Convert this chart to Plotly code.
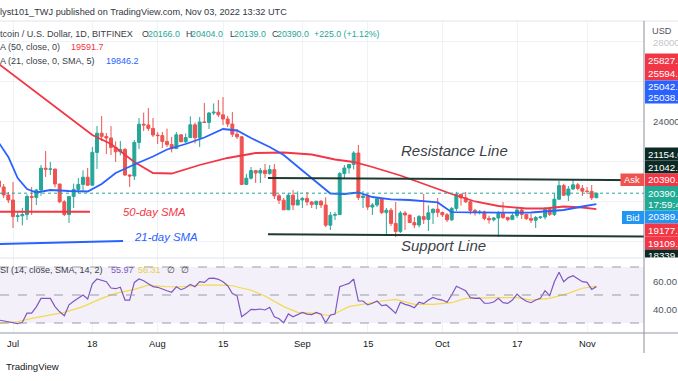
import plotly.graph_objects as go
import pandas as pd

W, H = 678, 381
PANE_R = 644          # right edge of the chart panes (price scale begins here)
MAIN_TOP, MAIN_BOT = 21, 258
RSI_TOP, RSI_BOT = 258, 332

# ---------------- data ----------------
dates = pd.date_range("2022-06-28", "2022-11-03", freq="D").strftime("%Y-%m-%d").tolist()

opens = [21000, 20700, 20300,
         20050, 19220, 19260, 19320, 20230, 20180, 20550, 21640, 21590, 21600, 20850, 19960, 19320, 20230, 20580, 20830,
         21190, 20790, 22430, 23390, 23230, 23150, 22680, 22460, 22580, 21300, 21250, 22930, 23840, 23800, 23630,
         23300, 23270, 22980, 22820, 22620, 23310, 22960, 23170, 23810, 23160, 23950, 23930, 24400, 24440, 24310,
         24100, 23850, 23340, 23210, 20830, 21140, 21520, 21400, 21530, 21370, 21570, 20260, 20040, 19560, 20290, 19800,
         20050, 20130, 19950, 19830, 19990, 19800, 18790, 19290, 19320, 21370, 21650, 21830, 22400, 20170, 20240,
         19700, 19800, 20110, 19420, 19540, 18880, 18480, 19400, 19300, 18920, 18800, 19220, 19080, 19410, 19590,
         19430, 19310, 19060, 19630, 20340, 20160, 19960, 19530, 19420, 19450, 19130, 19060, 19150, 19380, 19180,
         19070, 19270, 19550, 19330, 19120, 19040, 19170, 19200, 19570, 19330, 20090, 20770, 20290, 20600, 20810, 20630,
         20490, 20480, 20166]
highs = [21200, 20850, 20450,
         20950, 19420, 19650, 20330, 20700, 20600, 21800, 22500, 21950, 21600, 20860, 20040, 20250, 20870, 21150, 21530,
         21650, 22700, 23750, 24250, 23400, 23750, 22980, 23000, 22650, 21340, 23050, 24150, 24420, 24650, 24150,
         23450, 23450, 23620, 23200, 23450, 23350, 23380, 24230, 23920, 24200, 24900, 24450, 24880, 25050, 25200,
         24250, 24450, 23600, 23230, 21360, 21700, 21520, 21650, 21850, 21800, 21850, 20350, 20150, 20400, 20550, 20480,
         20200, 20450, 20000, 20000, 20050, 20180, 19450, 19450, 21450, 21800, 21850, 22480, 22800, 20500, 20350,
         19900, 20200, 20110, 19650, 19650, 19950, 19500, 19500, 19300, 19200, 19300, 20350, 19780, 19630, 20150,
         19470, 19400, 19700, 20460, 20360, 20450, 20050, 19610, 19550, 19520, 19270, 19200, 19500, 19950, 19210,
         19400, 19650, 19700, 19350, 19350, 19250, 19250, 19700, 19600, 20400, 21000, 20860, 20750, 21080, 20900, 20800,
         20700, 20800, 20404]
lows = [20500, 20150, 19900,
        18650, 18960, 18780, 19050, 19300, 19800, 20260, 21200, 21300, 20680, 19900, 19250, 18900, 19650, 20400, 20500,
        20760, 20760, 21600, 23000, 22350, 22300, 21950, 22280, 21250, 20700, 21050, 22600, 23500, 23500, 23200,
        22850, 22650, 22700, 22430, 22600, 22950, 22880, 23150, 22880, 22700, 23900, 23600, 24300, 24200, 23800,
        23700, 23200, 23100, 20800, 20800, 21070, 20900, 20900, 21150, 21320, 20100, 19850, 19550, 19550, 19550, 19800,
        19650, 19770, 19650, 19600, 19650, 18700, 18550, 19050, 19300, 21150, 21370, 21580, 20050, 19650, 19550,
        19300, 19700, 19350, 18250, 18750, 18200, 18400, 18550, 18900, 18650, 18680, 18850, 18500, 18850, 19200,
        19200, 18950, 19000, 19500, 19770, 19900, 19330, 19270, 19330, 19030, 18870, 18980, 18200, 19100, 18980,
        19070, 19150, 19100, 19050, 18900, 18650, 19100, 19080, 19250, 19250, 20060, 20250, 20000, 20560, 20530, 20250,
        20350, 20050, 20139]
closes = [20700, 20300, 20050,
          19220, 19260, 19320, 20230, 20180, 20550, 21640, 21590, 21600, 20850, 19960, 19320, 20230, 20580, 20830, 21190,
          20790, 22430, 23390, 23230, 23150, 22680, 22460, 22580, 21300, 21250, 22930, 23840, 23800, 23630, 23300,
          23270, 22980, 22820, 22620, 23310, 22960, 23170, 23810, 23160, 23950, 23930, 24400, 24440, 24310, 24100,
          23850, 23340, 23210, 20830, 21140, 21520, 21400, 21530, 21370, 21570, 20260, 20040, 19560, 20290, 19800, 20050,
          20130, 19950, 19830, 19990, 19800, 18790, 19290, 19320, 21370, 21650, 21830, 22400, 20170, 20240, 19700,
          19800, 20110, 19420, 19540, 18880, 18480, 19400, 19300, 18920, 18800, 19220, 19080, 19410, 19590, 19430,
          19310, 19060, 19630, 20340, 20160, 19960, 19530, 19420, 19450, 19130, 19060, 19150, 19380, 19180, 19070,
          19270, 19550, 19330, 19120, 19040, 19170, 19200, 19570, 19330, 20090, 20770, 20290, 20600, 20810, 20630, 20490,
          20480, 20160, 20390]

sma50_dates = ["2022-06-28", "2022-07-05", "2022-07-12", "2022-07-18", "2022-07-22", "2022-07-27", "2022-07-31",
               "2022-08-04", "2022-08-10", "2022-08-16", "2022-08-22", "2022-08-28", "2022-09-03", "2022-09-08",
               "2022-09-12", "2022-09-16", "2022-09-22", "2022-09-28", "2022-10-03", "2022-10-08", "2022-10-13",
               "2022-10-19", "2022-10-23", "2022-10-27", "2022-10-31", "2022-11-03"]
sma50_vals = [26850, 25600, 24350, 23300, 22850, 21950, 21400, 21375, 21800, 22150, 22400, 22425, 22325, 22075,
              21950, 21700, 21275, 20750, 20350, 19975, 19750, 19625, 19625, 19725, 19675, 19592]

sma21_dates = ["2022-06-28", "2022-06-30", "2022-07-02", "2022-07-04", "2022-07-06", "2022-07-09", "2022-07-13",
               "2022-07-17", "2022-07-20", "2022-07-23", "2022-07-27", "2022-07-31", "2022-08-03", "2022-08-07",
               "2022-08-11", "2022-08-15", "2022-08-18", "2022-08-21", "2022-08-25", "2022-08-28", "2022-09-01",
               "2022-09-04", "2022-09-07", "2022-09-10", "2022-09-13", "2022-09-16", "2022-09-20", "2022-09-24",
               "2022-09-30", "2022-10-03", "2022-10-06", "2022-10-13", "2022-10-20", "2022-10-24", "2022-10-27",
               "2022-10-31", "2022-11-03"]
sma21_vals = [22900, 22200, 21150, 20600, 20425, 20550, 20500, 20475, 20850, 21400, 21825, 22225, 22575, 22850,
              23175, 23600, 23525, 23150, 22700, 22300, 21525, 20950, 20375, 20350, 20425, 20200, 20085, 20050,
              19930, 19440, 19425, 19415, 19425, 19475, 19550, 19725, 19846]

rsi_vals = [32.1, 31.5, 31.0,
            30.0, 29.5, 30.5, 37.0, 37.0, 41.5, 47.6, 47.6, 47.6, 41.7, 38.0, 35.2, 43.0, 45.5, 47.5, 50.0,
            47.1, 58.0, 61.4, 60.5, 59.5, 55.0, 54.5, 55.5, 46.4, 46.4, 59.0, 61.4, 60.2, 58.0, 56.0,
            55.5, 54.0, 53.0, 52.0, 55.9, 53.8, 55.2, 57.6, 55.9, 59.5, 59.0, 61.9, 62.0, 61.2, 59.5,
            56.6, 51.0, 49.5, 34.5, 36.9, 39.8, 39.5, 40.0, 39.3, 41.2, 34.5, 33.0, 30.2, 36.5, 34.5, 36.2,
            37.6, 36.4, 36.0, 37.6, 36.2, 30.2, 35.7, 36.4, 55.9, 57.1, 58.3, 61.4, 45.7, 45.7, 42.9,
            44.1, 45.7, 42.4, 42.9, 40.0, 36.9, 44.8, 43.3, 42.4, 40.9, 44.8, 43.8, 46.4, 48.3, 47.0,
            46.4, 44.8, 50.0, 56.2, 54.5, 53.0, 48.1, 47.6, 47.8, 44.1, 44.1, 45.0, 47.6, 44.5, 44.0,
            46.4, 50.7, 47.6, 45.5, 44.5, 46.4, 47.6, 53.1, 49.5, 59.5, 66.2, 59.5, 62.4, 63.8, 61.4, 59.5,
            59.0, 54.0, 55.97]

rsima_dates = ["2022-06-28", "2022-07-02", "2022-07-05", "2022-07-09", "2022-07-12", "2022-07-16", "2022-07-20",
               "2022-07-23", "2022-07-27", "2022-07-30", "2022-08-03", "2022-08-06", "2022-08-10", "2022-08-14",
               "2022-08-17", "2022-08-21", "2022-08-24", "2022-08-28", "2022-08-31", "2022-09-04", "2022-09-07",
               "2022-09-11", "2022-09-14", "2022-09-18", "2022-09-21", "2022-09-25", "2022-09-29", "2022-10-03",
               "2022-10-06", "2022-10-10", "2022-10-13", "2022-10-17", "2022-10-20", "2022-10-24", "2022-10-28",
               "2022-10-31", "2022-11-03"]
rsima_vals = [29.8, 30.9, 33.3, 35.7, 37.6, 41.7, 47.6, 51.2, 54.0, 57.1, 55.9, 55.9, 57.1, 57.1, 56.6, 53.4,
              49.3, 41.7, 37.6, 36.9, 35.2, 41.7, 43.6, 45.7, 46.9, 43.3, 43.3, 44.5, 47.6, 48.1, 48.1, 48.1,
              46.4, 47.6, 51.2, 54.8, 56.31]

tick_dates = ["2022-07-01", "2022-07-18", "2022-08-01", "2022-08-15", "2022-09-01", "2022-09-15",
              "2022-10-01", "2022-10-17", "2022-11-01"]
tick_text = ["Jul", "18", "Aug", "15", "Sep", "15", "Oct", "17", "Nov"]

price_grid = [18000, 20000, 22000, 24000, 26000, 28000]
last_price = 20390
resistance = [("2022-08-24 15:00", 21154), ("2022-11-13 05:00", 21042)]
support = [("2022-08-24 15:00", 18339), ("2022-11-13 05:00", 18220)]
sma50_note = [("2022-06-27", 19465), ("2022-07-17 12:00", 19465)]
sma21_note = [("2022-06-27", 17840), ("2022-07-24 14:00", 18000)]

# price-scale tags: (text, top px, bottom px, colour)
RED_T, BLUE_T, DARK_T, TEAL_T, BID_T = "#f23645", "#2962ff", "#0c2a23", "#22ab94", "#2196f3"
tags = [("25827.0", 53.5, 67, RED_T), ("25594.0", 67, 80.5, RED_T),
        ("25042.0", 80.5, 92, BLUE_T), ("25038.0", 92, 103.5, BLUE_T),
        ("21154.0", 147.5, 160.5, DARK_T), ("21042.0", 160.5, 173.5, DARK_T),
        ("20390.0", 173.5, 186, RED_T), ("20389.0", 210.5, 223.5, BID_T),
        ("19177.0", 223.5, 236.5, RED_T), ("19109.0", 236.5, 249.5, RED_T),
        ("18339.0", 249.5, 257.5, DARK_T)]

# ---------------- styling ----------------
FONT = "Liberation Sans, Arial, sans-serif"
TXT = "#3b3e47"
UP, DN = "#26a69a", "#ef5350"
GRID = "#eff2f7"


def fx(x):
    return x / W


def fy(y):
    return 1 - y / H


fig = go.Figure()

fig.add_trace(go.Candlestick(
    x=dates, open=opens, high=highs, low=lows, close=closes,
    increasing=dict(line=dict(color=UP, width=1), fillcolor=UP),
    decreasing=dict(line=dict(color=DN, width=1), fillcolor=DN),
    whiskerwidth=0, xaxis="x", yaxis="y", showlegend=False, hoverinfo="skip"))
fig.add_trace(go.Scatter(x=sma50_dates, y=sma50_vals, mode="lines", line=dict(color="#f23645", width=1.8),
                         xaxis="x", yaxis="y", showlegend=False, hoverinfo="skip"))
fig.add_trace(go.Scatter(x=sma21_dates, y=sma21_vals, mode="lines", line=dict(color="#2962ff", width=1.8),
                         xaxis="x", yaxis="y", showlegend=False, hoverinfo="skip"))
fig.add_trace(go.Scatter(x=rsima_dates, y=rsima_vals, mode="lines", line=dict(color="#f3d94f", width=1.2),
                         xaxis="x2", yaxis="y2", showlegend=False, hoverinfo="skip"))
fig.add_trace(go.Scatter(x=dates, y=rsi_vals, mode="lines", line=dict(color="#7e57c2", width=1.2),
                         xaxis="x2", yaxis="y2", showlegend=False, hoverinfo="skip"))

xr = ["2022-06-28 05:09", "2022-11-13 04:55"]
common_x = dict(type="date", range=xr, domain=[0, fx(PANE_R)], showgrid=True, gridcolor=GRID, gridwidth=1,
                tickvals=tick_dates, showticklabels=False, zeroline=False, showline=False, ticks="",
                fixedrange=True)
fig.update_layout(
    width=W, height=H, margin=dict(l=0, r=0, t=0, b=0), autosize=False,
    paper_bgcolor="white", plot_bgcolor="white", showlegend=False,
    boxgap=0.1, boxgroupgap=0.3,
    xaxis=dict(**common_x, anchor="y", rangeslider=dict(visible=False)),
    xaxis2=dict(**common_x, anchor="y2"),
    yaxis=dict(domain=[fy(MAIN_BOT), fy(MAIN_TOP)], range=[20000 + (201 - MAIN_BOT) * 50, 20000 + (201 - MAIN_TOP) * 50],
               tickvals=price_grid, showticklabels=False, showgrid=True, gridcolor=GRID, zeroline=False,
               showline=False, ticks="", fixedrange=True, anchor="x"),
    yaxis2=dict(domain=[fy(RSI_BOT), fy(RSI_TOP)], range=[70 - (RSI_BOT - 267) / 1.4, 70 - (RSI_TOP - 267) / 1.4],
                tickvals=[40, 60], showticklabels=False, showgrid=True, gridcolor=GRID, zeroline=False,
                showline=False, ticks="", fixedrange=True, anchor="x2"),
)

shapes = []
# RSI band and levels
shapes.append(dict(type="rect", xref="paper", yref="y2", x0=0, x1=fx(PANE_R), y0=30, y1=70,
                   fillcolor="rgba(126,87,194,0.09)", line=dict(width=0), layer="below"))
for lv in (70, 50, 30):
    shapes.append(dict(type="line", xref="paper", yref="y2", x0=0, x1=fx(PANE_R), y0=lv, y1=lv,
                       line=dict(color="#9a9ca5", width=1, dash="dash")))
# last price dotted line
shapes.append(dict(type="line", xref="paper", yref="y", x0=0, x1=fx(PANE_R), y0=last_price, y1=last_price,
                   line=dict(color="#26a69a", width=1, dash="dot")))
# drawn trend lines
for pts, col in ((resistance, "#1c3a31"), (support, "#1c3a31"), (sma50_note, "#f23645"), (sma21_note, "#2962ff")):
    shapes.append(dict(type="line", xref="x", yref="y", x0=pts[0][0], y0=pts[0][1], x1=pts[1][0], y1=pts[1][1],
                       line=dict(color=col, width=2)))
# separators
shapes.append(dict(type="line", xref="paper", yref="paper", x0=0, x1=1, y0=fy(21), y1=fy(21),
                   line=dict(color="#e0e3eb", width=1)))
shapes.append(dict(type="line", xref="paper", yref="paper", x0=0, x1=fx(PANE_R), y0=fy(258), y1=fy(258),
                   line=dict(color="#e0e3eb", width=1)))
shapes.append(dict(type="line", xref="paper", yref="paper", x0=0, x1=1, y0=fy(333), y1=fy(333),
                   line=dict(color="#c9ccd3", width=2)))
shapes.append(dict(type="line", xref="paper", yref="paper", x0=fx(PANE_R), x1=fx(PANE_R), y0=fy(21), y1=fy(353),
                   line=dict(color="#8c8f98", width=1)))
# price-scale tags
for t, y0, y1, col in tags:
    shapes.append(dict(type="rect", xref="paper", yref="paper", x0=fx(PANE_R + 1), x1=1.02, y0=fy(y1), y1=fy(y0),
                       fillcolor=col, line=dict(width=0)))
shapes.append(dict(type="rect", xref="paper", yref="paper", x0=fx(PANE_R + 1), x1=1.02, y0=fy(210.5), y1=fy(186),
                   fillcolor=TEAL_T, line=dict(width=0)))
# Ask / Bid labels on chart
shapes.append(dict(type="rect", xref="paper", yref="paper", x0=fx(620.5), x1=fx(PANE_R), y0=fy(186), y1=fy(173.5),
                   fillcolor="#ef5350", line=dict(width=0)))
shapes.append(dict(type="rect", xref="paper", yref="paper", x0=fx(622), x1=fx(PANE_R), y0=fy(224), y1=fy(211),
                   fillcolor=BID_T, line=dict(width=0)))
fig.update_layout(shapes=shapes)

ann = []


def txt(x, y, s, size=9.2, color=TXT, anchor="left", italic=False, family=FONT):
    ann.append(dict(xref="paper", yref="paper", x=fx(x), y=fy(y), text=("<i>%s</i>" % s) if italic else s,
                    showarrow=False, xanchor=anchor, yanchor="middle", borderpad=0,
                    font=dict(family=family, size=size, color=color)))


GREEN = "#26a69a"
# header
txt(-1, 11.5, "lyst101_TWJ published on TradingView.com, Nov 03, 2022 13:32 UTC", size=9.2, color="#333640")
# legend line 1
for s, x, c, sz in [("tcoin / U.S. Dollar, 1D, BITFINEX", -1, TXT, 9.1), ("O", 141, TXT, 8.8),
                    ("20166.0", 147, GREEN, 8.8), ("H", 185, TXT, 8.8), ("20404.0", 190, GREEN, 8.8),
                    ("L", 229, TXT, 8.8), ("20139.0", 233, GREEN, 8.8), ("C", 271, TXT, 8.8),
                    ("20390.0", 276, GREEN, 8.8), ("+225.0 (+1.12%)", 313, GREEN, 8.8)]:
    txt(x, 33.5, s, size=sz, color=c)
txt(-1, 47, "A (50, close, 0)", size=9)
txt(70, 47, "19591.7", size=9, color="#f23645")
txt(-1, 61, "A (21, close, 0, SMA, 5)", size=9)
txt(105, 61, "19846.2", size=9, color="#2962ff")
# RSI legend
txt(-1, 270, "SI (14, close, SMA, 14, 2)", size=9)
txt(110, 270, "55.97", size=9, color="#7e57c2")
txt(137, 270, "56.31", size=9, color="#e9cf3f")
txt(166, 270, "\u2205", size=9)
txt(180, 270, "\u2205", size=9)

# chart notes
txt(122, 212, "50-day SMA", size=11.4, color="#f23645", italic=True)
txt(133, 237, "21-day SMA", size=11.4, color="#2962ff", italic=True)
txt(400, 150.5, "Resistance Line", size=15, color="#3c3f48", italic=True)
txt(400, 245.5, "Support Line", size=15, color="#3c3f48", italic=True)

# price scale texts
txt(651, 31.5, "USD", size=9.2, color="#50535e")
txt(652, 43, "28000.0", size=9.6, color="#c4c6cc")
txt(652, 121.5, "24000.0", size=9.6, color="#50535e")
txt(652, 281, "60.00", size=9.6, color="#50535e")
txt(652, 309, "40.00", size=9.6, color="#50535e")
for t, y0, y1, col in tags:
    txt(647, (y0 + y1) / 2 + (1.5 if t == "18339.0" else 0), t, size=9.8, color="white")
txt(647, 193.3, "20390.0", size=9.8, color="white")
txt(647, 204.3, "17:59:41", size=9.8, color="white")
txt(632.3, 179.8, "Ask", size=9.4, color="white", anchor="center")
txt(633, 217.5, "Bid", size=9.4, color="white", anchor="center")

# time axis labels (positioned on the date axis)
for d, s in zip(tick_dates, tick_text):
    ann.append(dict(xref="x2", yref="paper", x=d, y=fy(343.5), text=s, showarrow=False, xanchor="center",
                    yanchor="middle", font=dict(family=FONT, size=9.4, color="#131722")))

# footer
txt(5, 366, "TradingView", size=9.6, color="#131722")

fig.update_layout(annotations=ann)

fig.write_html("out.html", config={"displayModeBar": False},
               post_script="document.body.style.margin='0';document.body.style.overflow='hidden';")
